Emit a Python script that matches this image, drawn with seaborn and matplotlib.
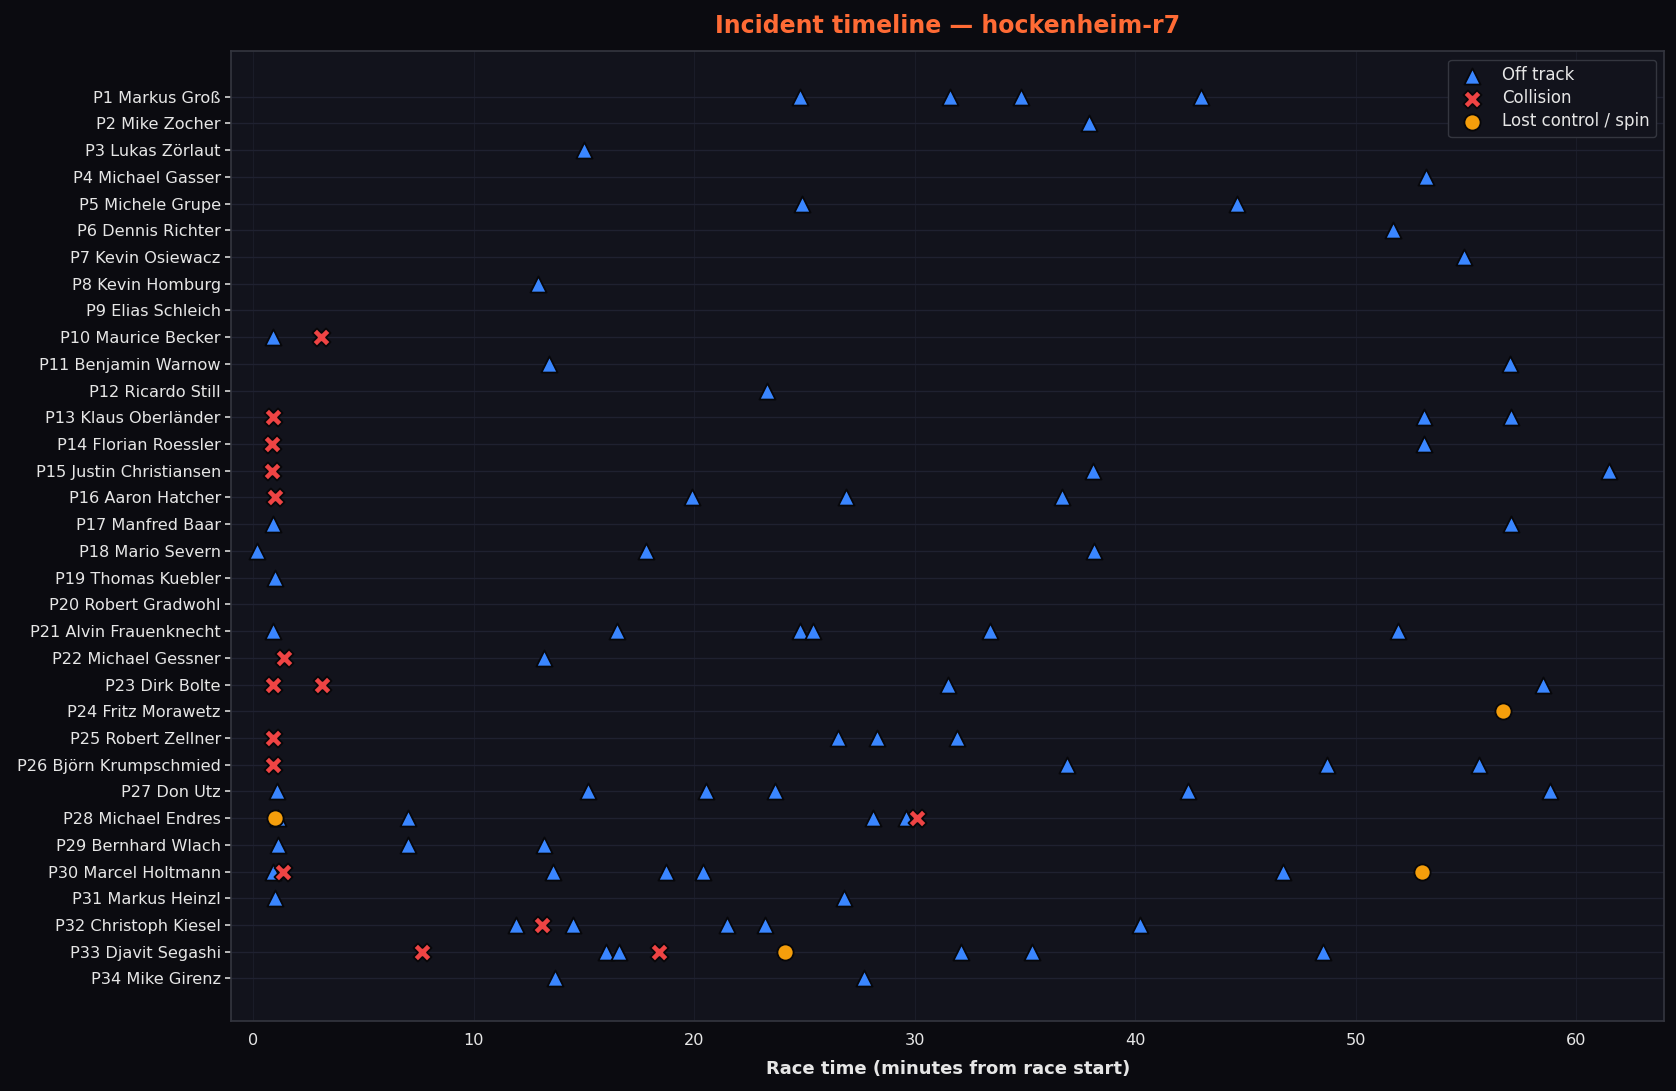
import matplotlib
matplotlib.use("Agg")
import matplotlib.pyplot as plt
import numpy as np
import pandas as pd
import seaborn as sns

drivers = [
    "Markus Groß", "Mike Zocher", "Lukas Zörlaut", "Michael Gasser", "Michele Grupe",
    "Dennis Richter", "Kevin Osiewacz", "Kevin Homburg", "Elias Schleich", "Maurice Becker",
    "Benjamin Warnow", "Ricardo Still", "Klaus Oberländer", "Florian Roessler",
    "Justin Christiansen", "Aaron Hatcher", "Manfred Baar", "Mario Severn", "Thomas Kuebler",
    "Robert Gradwohl", "Alvin Frauenknecht", "Michael Gessner", "Dirk Bolte", "Fritz Morawetz",
    "Robert Zellner", "Björn Krumpschmied", "Don Utz", "Michael Endres", "Bernhard Wlach",
    "Marcel Holtmann", "Markus Heinzl", "Christoph Kiesel", "Djavit Segashi", "Mike Girenz",
]

# incidents per finishing position: (position, minutes from race start)
off_track = [
    (1, 24.8), (1, 31.6), (1, 34.8), (1, 43.0), (2, 37.9), (3, 15.0), (4, 53.2),
    (5, 24.9), (5, 44.6), (6, 51.7), (7, 54.9), (8, 12.9), (10, 0.9), (11, 13.4),
    (11, 57.0), (12, 23.3), (13, 53.1), (13, 57.05), (14, 53.1), (15, 38.1), (15, 61.5),
    (16, 19.9), (16, 26.9), (16, 36.7), (17, 0.9), (17, 57.05), (18, 0.15), (18, 17.8),
    (18, 38.15), (19, 1.0), (21, 0.9), (21, 16.5), (21, 24.8), (21, 25.4), (21, 33.4),
    (21, 51.9), (22, 13.2), (23, 31.5), (23, 58.5), (25, 26.5), (25, 28.3), (25, 31.9),
    (26, 36.9), (26, 48.7), (26, 55.6), (27, 1.07), (27, 15.2), (27, 20.55), (27, 23.65),
    (27, 42.4), (27, 58.8), (28, 1.1), (28, 7.0), (28, 28.1), (28, 29.6), (29, 1.1),
    (29, 7.0), (29, 13.2), (30, 0.9), (30, 13.6), (30, 18.7), (30, 20.4), (30, 46.7),
    (31, 0.97), (31, 26.8), (32, 11.9), (32, 14.5), (32, 21.5), (32, 23.2), (32, 40.2),
    (33, 16.0), (33, 16.6), (33, 32.1), (33, 35.3), (33, 48.5), (34, 13.7), (34, 27.7),
]
collision = [
    (10, 3.05), (13, 0.9), (14, 0.85), (15, 0.85), (16, 1.0), (22, 1.4), (23, 0.9),
    (23, 3.1), (25, 0.9), (26, 0.9), (28, 30.1), (30, 1.35), (32, 13.1), (33, 7.66),
    (33, 18.4),
]
spin = [(24, 56.7), (28, 0.97), (30, 53.0), (33, 24.1)]

kinds = ["Off track", "Collision", "Lost control / spin"]
colors = {"Off track": "#3a86ff", "Collision": "#ef4444", "Lost control / spin": "#f59e0b"}
markers = {"Off track": "^", "Collision": "X", "Lost control / spin": "o"}

rows = []
for kind, events in zip(kinds, [off_track, collision, spin]):
    for pos, t in events:
        rows.append({"pos": pos - 1, "minute": t, "kind": kind})
df = pd.DataFrame(rows)

sns.set_theme(style="dark")
plt.rcParams["font.family"] = ["DejaVu Sans"]

bg = "#0b0b10"
ax_bg = "#12131c"
fig, ax = plt.subplots(figsize=(16.76, 10.91), dpi=100)
fig.patch.set_facecolor(bg)
ax.set_facecolor(ax_bg)

for kind in kinds:
    sub = df[df["kind"] == kind]
    sns.scatterplot(data=sub, x="minute", y="pos", marker=markers[kind], color=colors[kind],
                    s=135 if kind != "Collision" else 170, edgecolor="#07070a", linewidth=1.3,
                    label=kind, ax=ax, zorder=3)

ax.set_yticks(np.arange(len(drivers)))
ax.set_yticklabels([f"P{i + 1} {n}" for i, n in enumerate(drivers)], color="#e6e6e6", fontsize=11.6)
ax.set_ylim(len(drivers) - 1 + 1.6, -1.7)
ax.set_xlim(-1, 64)
ax.set_xticks(range(0, 61, 10))
ax.tick_params(axis="x", colors="#e6e6e6", labelsize=11.6, length=5, color="#cfcfcf")
ax.tick_params(axis="y", length=4, color="#cfcfcf", left=True)
ax.set_ylabel("")
ax.set_xlabel("Race time (minutes from race start)", color="#e6e6e6", fontsize=13,
              fontweight="bold", labelpad=9)
ax.grid(True, axis="y", color="#1f2130", linewidth=1.0)
ax.grid(True, axis="x", color="#1a1c28", linewidth=0.8)
ax.set_axisbelow(True)
for sp in ax.spines.values():
    sp.set_color("#34363f")
    sp.set_linewidth(1.2)

ax.set_title("Incident timeline — hockenheim-r7", color="#ff6b35", fontsize=17,
             fontweight="bold", pad=13)

leg = ax.legend(loc="upper right", fontsize=12, facecolor=ax_bg, edgecolor="#34363f",
                labelcolor="#e6e6e6", framealpha=1.0, labelspacing=0.3)

fig.subplots_adjust(left=0.138, right=0.993, top=0.953, bottom=0.064)
fig.savefig("out.png", facecolor=bg)
